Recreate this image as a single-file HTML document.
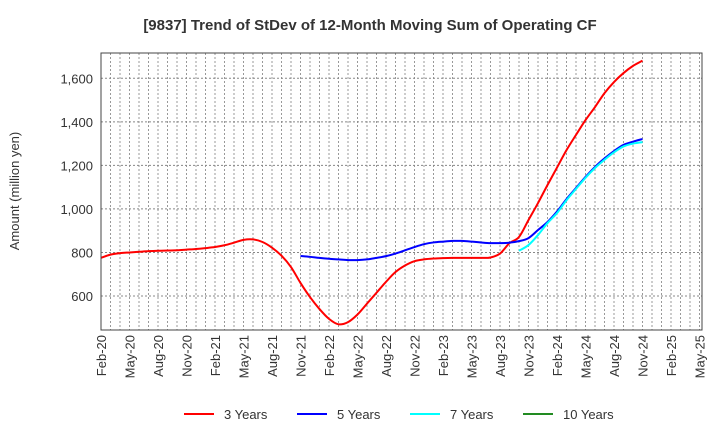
<!DOCTYPE html>
<html><head><meta charset="utf-8">
<style>
body{margin:0;background:#fff;}
svg text{font-family:"Liberation Sans",Arial,sans-serif;}
</style></head>
<body>
<svg id="chart" width="720" height="440" xmlns="http://www.w3.org/2000/svg">
<rect width="720" height="440" fill="#fff"/>
<text x="370" y="30" text-anchor="middle" font-size="15" font-weight="bold" fill="#333">[9837]  Trend of StDev of 12-Month Moving Sum of Operating CF</text>
<text transform="translate(19,191) rotate(-90)" text-anchor="middle" font-size="13" fill="#333">Amount (million yen)</text>
<g id="grid"></g>
<g id="series"></g>
<rect x="101" y="53" width="601" height="277" fill="none" stroke="#444" stroke-width="1"/>
<g id="axes"></g>
<g id="legend"></g>
</svg>
<script>
const monthLabels=["Feb-20","May-20","Aug-20","Nov-20","Feb-21","May-21","Aug-21","Nov-21","Feb-22","May-22","Aug-22","Nov-22","Feb-23","May-23","Aug-23","Nov-23","Feb-24","May-24","Aug-24","Nov-24","Feb-25","May-25"];
const yTicks=[600,800,1000,1200,1400,1600];
const yTickLabels=["600","800","1,000","1,200","1,400","1,600"];
const seriesNames=["3 Years","5 Years","7 Years","10 Years"];
const seriesColors=["#ff0000","#0000ff","#00ffff","#228b22"];
const start3=0;
const values3=[775,790,797,800,803,806,808,809,810,813,816,820,825,833,845,858,860,848,822,785,733,660,595,540,495,470,480,515,565,615,665,710,740,760,768,772,774,775,775,775,775,777,795,843,871,949,1027,1110,1190,1270,1340,1408,1468,1532,1583,1624,1657,1681];
const start5=21;
const values5=[784,780,775,771,768,765,765,768,775,783,795,810,825,838,846,850,853,853,850,846,843,843,845,852,866,903,940,988,1045,1096,1147,1193,1232,1266,1294,1309,1321];
const start7=44;
const values7=[808,834,880,935,981,1040,1092,1143,1188,1226,1260,1287,1300,1307];
const values10=[];

const X0=101,XS=9.5,Y0=296,YS=0.2177;
function x(i){return X0+i*XS;}
function y(v){return Y0-(v-600)*YS;}
const NS="http://www.w3.org/2000/svg";
function mk(tag,attrs,parent){const e=document.createElementNS(NS,tag);for(const k in attrs)e.setAttribute(k,attrs[k]);parent.appendChild(e);return e;}
const grid=document.getElementById('grid'),axes=document.getElementById('axes'),ser=document.getElementById('series'),leg=document.getElementById('legend');
for(let i=1;i<64;i++){const gx=x(i);if(gx>=702)break;
const l=mk('line',{x1:gx,x2:gx,y1:53,y2:330,stroke:'#999','stroke-dasharray':'2,2','stroke-width':1},grid);

}
yTicks.forEach((v,k)=>{
const l=mk('line',{x1:101,x2:702,y1:y(v),y2:y(v),stroke:'#888','stroke-dasharray':'2,2','stroke-width':1},grid);


const t=mk('text',{x:93,y:y(v)+5,'text-anchor':'end','font-size':13,fill:'#333'},axes);
t.textContent=yTickLabels[k];

});
monthLabels.forEach((s,k)=>{const tx=x(k*3);
const t=mk('text',{transform:`translate(${tx+5},335) rotate(-90)`,'text-anchor':'end','font-size':13,fill:'#333'},axes);
t.textContent=s;

});
function path(vals,st){if(vals.length<2)return '';const p=vals.map((v,k)=>[x(st+k),y(v)]);
let d=`M${p[0][0]},${p[0][1]}`;for(let k=0;k<p.length-1;k++){const p0=p[k-1]||p[k],p1=p[k],p2=p[k+1],p3=p[k+2]||p2;
d+=` C${p1[0]+(p2[0]-p0[0])/6},${p1[1]+(p2[1]-p0[1])/6} ${p2[0]-(p3[0]-p1[0])/6},${p2[1]-(p3[1]-p1[1])/6} ${p2[0]},${p2[1]}`;}return d;}
[[values3,start3],[values5,start5],[values7,start7],[values10,0]].forEach((s,k)=>{const d=path(s[0],s[1]);if(!d)return;
const e=mk('path',{d:d,fill:'none',stroke:seriesColors[k],'stroke-width':2},ser);

});
const lx=[184,297,410,523];
seriesNames.forEach((n,k)=>{
const l=mk('line',{x1:lx[k],x2:lx[k]+30,y1:414,y2:414,stroke:seriesColors[k],'stroke-width':2},leg);


const t=mk('text',{x:lx[k]+40,y:419,'font-size':13,fill:'#333'},leg);
t.textContent=n;

});
</script>
</body></html>
